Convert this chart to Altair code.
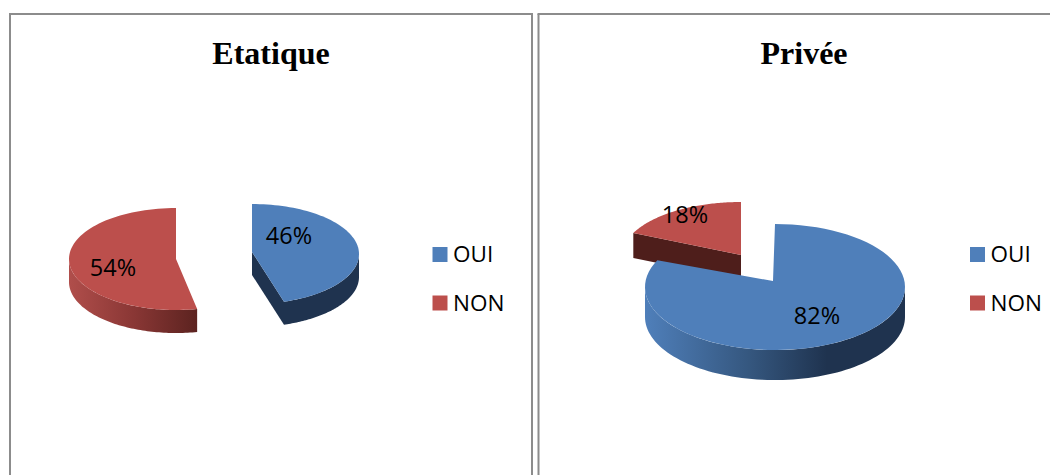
import numpy as np
import pandas as pd
import altair as alt

TITLES = ["Etatique", "Privée"]
CATEGORIES = ["OUI", "NON"]
ETATIQUE = [46, 54]
PRIVEE = [82, 18]

W, H = 1042, 467
BLUE, RED = "#4f7fba", "#bc4f4c"
DBLUE, DRED = "#1f334f", "#4e1e1b"
xs = alt.Scale(domain=[8, 8 + W], nice=False, zero=False)
ys = alt.Scale(domain=[8 + H, 8], nice=False, zero=False)
X = lambda f: alt.X(f, type="quantitative", scale=xs, axis=None)
Y = lambda f: alt.Y(f, type="quantitative", scale=ys, axis=None)


def ell(c, rx, ry, a0, a1, n=80):
    t = np.radians(np.linspace(a0, a1, n))
    return np.c_[c[0] + rx * np.sin(t), c[1] - ry * np.cos(t)]


def poly(points, fill):
    pts = np.vstack([points, points[:1]])
    df = pd.DataFrame({"px": pts[:, 0], "py": pts[:, 1], "i": range(len(pts))})
    return (
        alt.Chart(df)
        .mark_line(fill=fill, strokeWidth=0, interpolate="linear")
        .encode(x=X("px"), y=Y("py"), order=alt.Order("i:Q"))
    )


def top(apex, c, rx, ry, a0, a1, fill):
    return poly(np.vstack([[apex], ell(c, rx, ry, a0, a1)]), fill)


def rim(c, rx, ry, a0, a1, d, fill):
    arc = ell(c, rx, ry, a0, a1)
    return poly(np.vstack([arc, (arc + [0, d])[::-1]]), fill)


def face(apex, end, d, fill):
    a, e = np.array(apex, float), np.array(end, float)
    return poly(np.array([a, e, e + [0, d], a + [0, d]]), fill)


def grad(stops):
    return alt.LinearGradient(
        gradient="linear",
        x1=0, x2=1, y1=0, y2=0,
        stops=[alt.GradientStop(offset=o, color=c) for o, c in stops],
    )


def split(share):
    return 360 * share / 100


layers = []

# Etatique
a = split(ETATIQUE[0])
PERSP = 3  # the source's tilt pulls the lower cut slightly towards the centre line
bc, ba = (252, 254), (252, 252)
rc, ra = (176, 259), (176, 259)
rx, ry, d = 107, 51, 23
a_b, a_r = a - PERSP, a + PERSP
end_b = ell(bc, rx, 50, a_b, a_b, 1)[0]
layers += [
    rim(rc, rx, ry, a_r, 270, d, grad([(0, "#b04e4b"), (0.5, "#8a3735"), (1, "#5c2320")])),
    top(ra, rc, rx, ry, a_r, 360, RED),
    rim(bc, rx, 50, 90, a_b, d, DBLUE),
    face(ba, end_b, d, DBLUE),
    top(ba, bc, rx, 50, 0, a_b, BLUE),
]

# Privée
a = split(PRIVEE[0])
rc2, ra2 = (741, 256), (741, 255)
rrx, rry = 119, 54
end_r = ell(rc2, rrx, rry, a, a, 1)[0]
bc2, ba2 = (775, 287), (773, 281)
layers += [
    face(ra2, end_r, 25, DRED),
    top(ra2, rc2, rrx, rry, a, 360, RED),
    rim(bc2, 130, 63, 90, 270, 30, grad([(0, "#4f7fba"), (0.4, "#35577f"), (0.7, "#1f334f"), (1, "#1f334f")])),
    top(ba2, bc2, 130, 63, 0, a, BLUE),
]

# frames
frames = pd.DataFrame({"x": [10, 532, 538.5], "y": [14, 14, 14], "y2": [8 + H] * 3})
hfr = pd.DataFrame({"x": [9, 537.5], "x2": [533, 8 + W], "y": [14, 14]})
rules_v = alt.Chart(frames).mark_rule(color="#8c8c8c", strokeWidth=2).encode(
    x=X("x"), y=Y("y"), y2="y2"
)
rules_h = alt.Chart(hfr).mark_rule(color="#8c8c8c", strokeWidth=2).encode(
    x=X("x"), x2="x2", y=Y("y")
)

# titles
tdf = pd.DataFrame({"t": TITLES, "x": [271, 804], "y": [64, 64]})
titles = alt.Chart(tdf).mark_text(
    font="Liberation Serif", fontWeight="bold", fontSize=32, baseline="alphabetic", color="#000"
).encode(x=X("x"), y=Y("y"), text="t:N")

# slice labels
ldf = pd.DataFrame({
    "t": [f"{v}%" for v in ETATIQUE + PRIVEE],
    "x": [289, 113, 817, 685],
    "y": [236.5, 268.5, 316.5, 215.5],
})
labels = alt.Chart(ldf).mark_text(font="Open Sans", fontSize=23.5, color="#000").encode(
    x=X("x"), y=Y("y"), text="t:N"
)

# legends
legx = [440, 977.5]
sq = pd.DataFrame({
    "c": CATEGORIES * 2,
    "x": [legx[0]] * 2 + [legx[1]] * 2,
    "y": [254.5, 303] * 2,
})
cscale = alt.Scale(domain=CATEGORIES, range=[BLUE, RED])
squares = alt.Chart(sq).mark_square(size=225, opacity=1).encode(
    x=X("x"), y=Y("y"), color=alt.Color("c:N", scale=cscale, legend=None)
)
sq["tx"] = sq["x"] + 13
sq["ty"] = sq["y"] + 0.5
legtext = alt.Chart(sq).mark_text(font="Open Sans", fontSize=22.5, align="left", color="#000").encode(
    x=X("tx"), y=Y("ty"), text="c:N"
)

chart = alt.layer(rules_v, rules_h, *layers, titles, labels, squares, legtext).properties(
    width=W, height=H, padding=0, autosize=alt.AutoSizeParams(type="none")
).configure_view(stroke=None)

chart.save("out.html", embed_options={"renderer": "svg", "actions": False})
